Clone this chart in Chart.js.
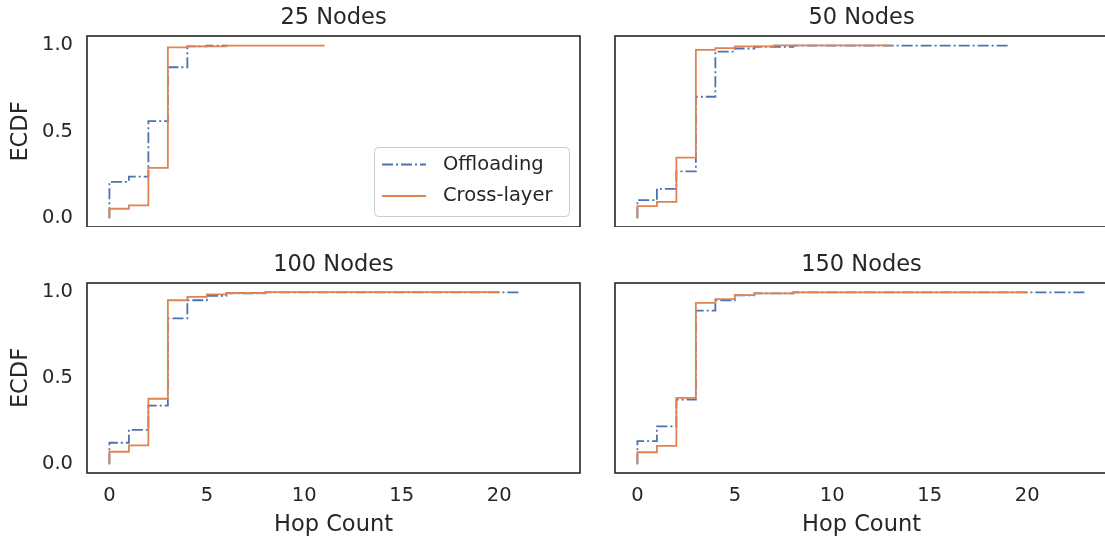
<!DOCTYPE html>
<html>
<head>
<meta charset="utf-8">
<script src="https://cdn.jsdelivr.net/npm/chart.js@4/dist/chart.umd.min.js"></script>
<style>
  html, body { margin: 0; padding: 0; background: #fff; overflow: hidden; }
  #wrap { position: relative; width: 1105px; height: 539px; overflow: hidden; }
  canvas { position: absolute; }
</style>
</head>
<body>
<div id="wrap">
  <canvas id="c25" width="600" height="227" style="left:0;top:0"></canvas>
  <canvas id="c50" width="508" height="227" style="left:600px;top:0"></canvas>
  <canvas id="c100" width="600" height="292" style="left:0;top:247px"></canvas>
  <canvas id="c150" width="508" height="292" style="left:600px;top:247px"></canvas>
</div>
<script>
// series + ticks
const seriesNames = ['Offloading', 'Cross-layer'];
const panelTitles = ['25 Nodes', '50 Nodes', '100 Nodes', '150 Nodes'];
const xTicks = [0, 5, 10, 15, 20];
const yTicks = [0, 0.5, 1];

// ECDF steps (hop count -> cumulative share)
const hops25Off = [0, 0, 1, 2, 3, 4, 5, 6];
const ecdf25Off = [0, 0.21, 0.24, 0.56, 0.87, 0.99, 0.995, 1.0];
const hops25Cross = [0, 0, 1, 2, 3, 4, 6, 11];
const ecdf25Cross = [0, 0.055, 0.075, 0.29, 0.985, 0.99, 0.995, 1.0];

const hops50Off = [0, 0, 1, 2, 3, 4, 5, 6, 8, 19];
const ecdf50Off = [0, 0.105, 0.17, 0.27, 0.70, 0.96, 0.978, 0.988, 0.995, 1.0];
const hops50Cross = [0, 0, 1, 2, 3, 4, 5, 7, 13];
const ecdf50Cross = [0, 0.07, 0.095, 0.35, 0.97, 0.98, 0.99, 0.996, 1.0];

const hops100Off = [0, 0, 1, 2, 3, 4, 5, 6, 8, 21];
const ecdf100Off = [0, 0.125, 0.2, 0.34, 0.845, 0.95, 0.975, 0.99, 0.996, 1.0];
const hops100Cross = [0, 0, 1, 2, 3, 4, 5, 6, 8, 20];
const ecdf100Cross = [0, 0.073, 0.11, 0.38, 0.95, 0.97, 0.984, 0.992, 0.997, 1.0];

const hops150Off = [0, 0, 1, 2, 3, 4, 5, 6, 8, 23];
const ecdf150Off = [0, 0.135, 0.22, 0.375, 0.89, 0.95, 0.978, 0.99, 0.996, 1.0];
const hops150Cross = [0, 0, 1, 2, 3, 4, 5, 6, 8, 20];
const ecdf150Cross = [0, 0.07, 0.107, 0.385, 0.935, 0.957, 0.98, 0.99, 0.996, 1.0];

const textColor = '#262626';
const blue = '#4c72b0';
const orange = '#dd8452';
const offDash = [11, 3, 2, 3];

Chart.defaults.font.family = "'DejaVu Sans', sans-serif";
Chart.defaults.color = textColor;

function points(xs, ys) {
    return xs.map(function(x, i) { return { x: x, y: ys[i] }; });
}

// box around the plot area (spines)
const framePlugin = {
    id: 'frame',
    afterDatasetsDraw: function(chart) {
        const a = chart.chartArea;
        const ctx = chart.ctx;
        ctx.save();
        ctx.strokeStyle = textColor;
        ctx.lineWidth = 1.6;
        ctx.strokeRect(a.left, a.top, a.right - a.left, a.bottom - a.top);
        ctx.restore();
    }
};

// legend box in the lower right of the first panel
const boxLegend = {
    id: 'boxLegend',
    afterDraw: function(chart) {
        const a = chart.chartArea;
        const ctx = chart.ctx;
        const w = 195, h = 69;
        const x0 = a.right - 11 - w, y0 = a.bottom - 11 - h;
        ctx.save();
        ctx.fillStyle = 'rgba(255,255,255,0.8)';
        ctx.strokeStyle = '#cccccc';
        ctx.lineWidth = 1;
        ctx.beginPath();
        ctx.roundRect(x0 + 0.5, y0 + 0.5, w, h, 4);
        ctx.fill();
        ctx.stroke();
        ctx.font = "19.5px 'DejaVu Sans', sans-serif";
        ctx.textBaseline = 'middle';
        chart.data.datasets.forEach(function(ds, i) {
            const y = y0 + 17.5 + i * 31.5;
            ctx.strokeStyle = ds.borderColor;
            ctx.lineWidth = ds.borderWidth;
            ctx.setLineDash(ds.borderDash || []);
            ctx.beginPath();
            ctx.moveTo(x0 + 8, y);
            ctx.lineTo(x0 + 52, y);
            ctx.stroke();
            ctx.setLineDash([]);
            ctx.fillStyle = textColor;
            ctx.fillText(ds.label, x0 + 69, y);
        });
        ctx.restore();
    }
};

function makeChart(id, title, offHops, offEcdf, crossHops, crossEcdf, opt) {
    const ctx = document.getElementById(id).getContext('2d');
    const plugins = [framePlugin];
    if (opt.legend) plugins.push(boxLegend);

    new Chart(ctx, {
        type: 'line',
        data: {
            datasets: [{
                label: seriesNames[0],
                data: points(offHops, offEcdf),
                borderColor: blue,
                borderWidth: 1.8,
                borderDash: offDash,
                stepped: 'before',
                pointRadius: 0,
                order: 2
            }, {
                label: seriesNames[1],
                data: points(crossHops, crossEcdf),
                borderColor: orange,
                borderWidth: 1.8,
                stepped: 'before',
                pointRadius: 0,
                order: 1
            }]
        },
        options: {
            responsive: false,
            animation: false,
            devicePixelRatio: 1,
            events: [],
            layout: {
                padding: { left: opt.yAxis ? 0 : 15, right: opt.yAxis ? 20 : 0, top: 0, bottom: 0 }
            },
            plugins: {
                legend: { display: false },
                tooltip: { enabled: false },
                title: {
                    display: true,
                    text: title,
                    fullSize: false,
                    color: textColor,
                    font: { size: 22.5, weight: 'normal' },
                    padding: { top: 5, bottom: 4 }
                }
            },
            scales: {
                x: {
                    type: 'linear',
                    min: -1.15,
                    max: 24.15,
                    display: opt.xAxis,
                    border: { display: false },
                    grid: { display: false, drawTicks: false },
                    afterBuildTicks: function(s) { s.ticks = xTicks.map(function(v) { return { value: v }; }); },
                    afterFit: function(s) {
                        s.height = opt.xAxis ? 66 : 0;
                        s.paddingLeft = 0;
                        s.paddingRight = 0;
                    },
                    ticks: {
                        padding: 11,
                        color: textColor,
                        font: { size: 19.5 },
                        maxRotation: 0,
                        callback: function(v) { return String(v); }
                    },
                    title: {
                        display: true,
                        text: 'Hop Count',
                        color: textColor,
                        font: { size: 22.5 },
                        padding: { top: 0, bottom: 0 }
                    }
                },
                y: {
                    type: 'linear',
                    min: -0.05,
                    max: 1.05,
                    display: opt.yAxis,
                    border: { display: false },
                    grid: { display: false, drawTicks: false },
                    afterBuildTicks: function(s) { s.ticks = yTicks.map(function(v) { return { value: v }; }); },
                    afterFit: function(s) {
                        s.width = opt.yAxis ? 87 : 0;
                        s.paddingTop = 0;
                        s.paddingBottom = 0;
                    },
                    ticks: {
                        padding: 14,
                        color: textColor,
                        font: { size: 19.5 },
                        callback: function(v) { return v.toFixed(1); }
                    },
                    title: {
                        display: true,
                        text: 'ECDF',
                        color: textColor,
                        font: { size: 22.5 },
                        padding: { top: 7.5, bottom: 0 }
                    }
                }
            }
        },
        plugins: plugins
    });
}

makeChart('c25', panelTitles[0], hops25Off, ecdf25Off, hops25Cross, ecdf25Cross, { yAxis: true, xAxis: false, legend: true });
makeChart('c50', panelTitles[1], hops50Off, ecdf50Off, hops50Cross, ecdf50Cross, { yAxis: false, xAxis: false, legend: false });
makeChart('c100', panelTitles[2], hops100Off, ecdf100Off, hops100Cross, ecdf100Cross, { yAxis: true, xAxis: true, legend: false });
makeChart('c150', panelTitles[3], hops150Off, ecdf150Off, hops150Cross, ecdf150Cross, { yAxis: false, xAxis: true, legend: false });
</script>
</body>
</html>
